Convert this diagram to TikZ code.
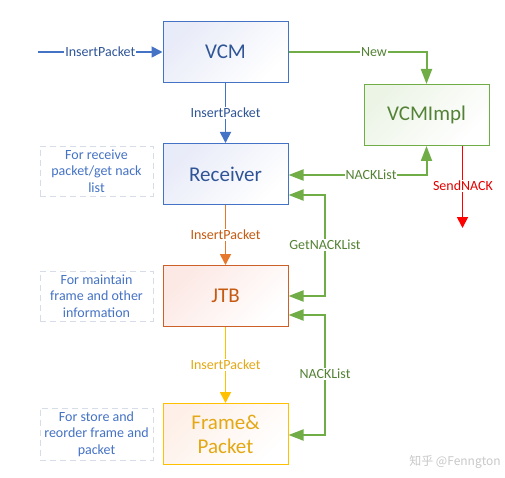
\documentclass[tikz,border=0pt]{standalone}
\usepackage{fontspec}
\setmainfont{Carlito}
\newfontfamily\cjkfont{Noto Sans CJK SC}
\usetikzlibrary{arrows.meta,positioning}
\definecolor{bBord}{RGB}{68,114,196}
\definecolor{bText}{RGB}{47,85,151}
\definecolor{bFill}{RGB}{232,235,248}
\definecolor{oBord}{RGB}{205,95,40}
\definecolor{oText}{RGB}{197,90,17}
\definecolor{oLine}{RGB}{230,120,45}
\definecolor{oFill}{RGB}{252,232,228}
\definecolor{yBord}{RGB}{255,192,0}
\definecolor{yText}{RGB}{228,168,20}
\definecolor{yFill}{RGB}{254,240,232}
\definecolor{gBord}{RGB}{112,173,71}
\definecolor{gText}{RGB}{84,130,53}
\definecolor{gFill}{RGB}{236,244,230}
\definecolor{nBord}{RGB}{214,220,232}
\definecolor{nText}{RGB}{68,114,196}
\definecolor{wm}{RGB}{200,200,200}
\tikzset{
  box/.style={draw, line width=1pt, minimum width=125pt, minimum height=61pt, inner sep=2pt, font=\fontsize{21}{24}\selectfont, align=center},
  grad/.style={top color=#1, bottom color=white, shading angle=45},
  bluebox/.style={box, draw=bBord, text=bText, grad=bFill},
  orangebox/.style={box, draw=oBord, text=oText, grad=oFill},
  yellowbox/.style={box, draw=yBord, text=yText, grad=yFill},
  greenbox/.style={box, draw=gBord, text=gText, grad=gFill},
  note/.style={draw=nBord, dashed, dash pattern=on 6pt off 4pt, line width=0.8pt, minimum width=113pt, minimum height=50pt, text=nText, align=center, font=\fontsize{14}{16.7}\selectfont},
  lbl/.style={fill=white, inner sep=1pt, font=\fontsize{14}{16}\selectfont},
  tip/.style={-{Triangle[length=11pt,width=11pt]}},
  gtip/.style={-{Triangle[length=15pt,width=11pt]}},
  gtip2/.style={{Triangle[length=15pt,width=11pt]}-{Triangle[length=15pt,width=11pt]}},
}
\begin{document}
\begin{tikzpicture}[x=1pt,y=-1pt]
\useasboundingbox (0,0) rectangle (505,478);
% main boxes
\node[bluebox] (vcm) at (225.5,52) {VCM};
\node[bluebox] (rec) at (225.5,174) {Receiver};
\node[orangebox] (jtb) at (225.5,296) {JTB};
\node[yellowbox] (fp) at (225.5,434) {Frame\&\\Packet};
\node[greenbox] (impl) at (426.5,115) {VCMImpl};
% notes
\node[note] (n1) at (96.5,171) {For receive\\packet/get nack\\list};
\node[note] (n2) at (96.5,296) {For maintain\\frame and other\\information};
\node[note] (n3) at (96.5,434) {For store and\\reorder frame and\\packet};
% helper coordinates
\coordinate (in) at (38,52);
\coordinate (newc) at (426.5,52);
\coordinate (nk1) at (426.5,175);
\coordinate (g1) at (325,195);
\coordinate (g2) at (325,296);
\coordinate (g3) at (325,315);
\coordinate (g4) at (325,435);
\coordinate (sendend) at (462.5,228);
% blue
\draw[bBord, line width=1.8pt, tip] (in) -- (vcm.west) node[pos=0.5, lbl, text=bText] {InsertPacket};
\draw[bBord, line width=1.8pt, tip] (vcm.south) -- (rec.north) node[midway, lbl, text=bText] {InsertPacket};
% orange
\draw[oLine, line width=1.8pt, tip] (rec.south) -- (jtb.north) node[midway, lbl, text=oText] {InsertPacket};
% yellow
\draw[yBord, line width=1.8pt, tip] (jtb.south) -- (fp.north) node[midway, lbl, text=yText] {InsertPacket};
% green New
\draw[gBord, line width=2pt, gtip] (vcm.east) -- (newc) -- (impl.north);
\node[lbl, text=gText] (newl) at (374,52) {New};
% green NACKList top
\draw[gBord, line width=2pt, gtip2] (rec.east |- nk1) -- (nk1) -- (impl.south);
\node[lbl, text=gText] (nkl1) at (371,175) {NACKList};
% GetNACKList
\draw[gBord, line width=2pt, gtip2] (rec.east |- g1) -- (g1) -- (g2) -- (jtb.east |- g2);
\node[lbl, text=gText] (gnl) at (325,245) {GetNACKList};
% lower NACKList
\draw[gBord, line width=2pt, gtip2] (jtb.east |- g3) -- (g3) -- (g4) -- (fp.east |- g4);
\node[lbl, text=gText] (nkl2) at (325,374) {NACKList};
% SendNACK
\draw[red, line width=1.8pt, tip] (impl.south -| sendend) -- (sendend);
\node[lbl, text=red!90!black] (snl) at (463,186) {SendNACK};
% watermark
\node[text=wm, font=\fontsize{12}{14}\selectfont, inner sep=0pt] (wmk) at (455,462) {\cjkfont 知乎 @Fenngton};
\end{tikzpicture}
\end{document}
